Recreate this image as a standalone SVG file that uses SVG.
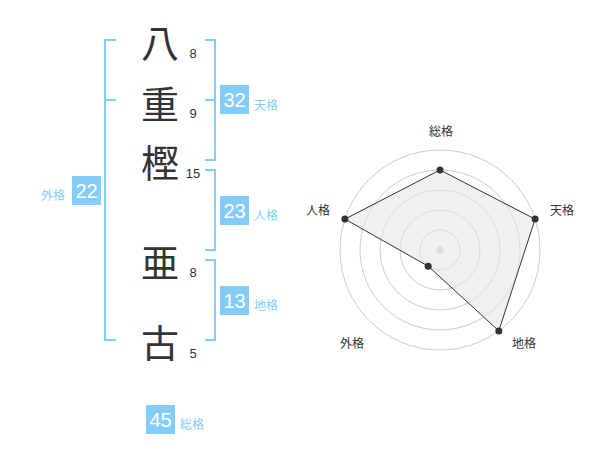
<svg xmlns="http://www.w3.org/2000/svg" width="600" height="470" viewBox="0 0 600 470">
<style>
.kanji{font-family:"Noto Sans CJK JP","Noto Sans CJK SC",sans-serif;font-size:38px;fill:#333;text-anchor:middle;dominant-baseline:central}
.num{font-family:"Liberation Sans",Arial,sans-serif;font-size:13px;fill:#333;text-anchor:middle;dominant-baseline:central}
.br{fill:none;stroke:#84cdf8;stroke-width:2}
.box{fill:#84cdf8}
.bn{font-family:"Liberation Sans",Arial,sans-serif;font-size:20px;fill:#fff;text-anchor:middle;dominant-baseline:central}
.lab{font-family:"Noto Sans CJK JP",sans-serif;font-size:12px;fill:#84cdf8;dominant-baseline:central}
.rl{font-family:"Noto Sans CJK JP",sans-serif;font-size:12px;fill:#333;text-anchor:middle;dominant-baseline:central}
.ring{fill:none;stroke:#cccccc;stroke-width:1}
.dot{fill:#333}
</style>
<rect width="600" height="470" fill="#fff"/>
<g id="chars">
<g id="c1"><text class="kanji" x="160" y="40">八</text><text class="num" x="193" y="53">8</text></g>
<g id="c2"><text class="kanji" x="160" y="101">重</text><text class="num" x="193" y="113">9</text></g>
<g id="c3"><text class="kanji" x="160" y="160">樫</text><text class="num" x="193" y="173">15</text></g>
<g id="c4"><text class="kanji" x="160" y="260">亜</text><text class="num" x="193" y="272">8</text></g>
<g id="c5"><text class="kanji" x="160" y="340">古</text><text class="num" x="193" y="353">5</text></g>
</g>
<g id="connectors">
<path class="br" d="M116 40H105V340H116M105 100H116"/>
<path class="br" d="M205 40H215V160H205M205 100H215"/>
<path class="br" d="M205 170H215V250H205"/>
<path class="br" d="M205 260H215V340H205"/>
</g>
<g id="tenkaku"><rect class="box" x="220" y="85" width="29" height="29"/><text class="bn" x="234.5" y="100">32</text><text class="lab" x="254" y="104">天格</text></g>
<g id="jinkaku"><rect class="box" x="220" y="196" width="29" height="29"/><text class="bn" x="234.5" y="211">23</text><text class="lab" x="254" y="214">人格</text></g>
<g id="chikaku"><rect class="box" x="220" y="286" width="29" height="29"/><text class="bn" x="234.5" y="301">13</text><text class="lab" x="254" y="304">地格</text></g>
<g id="gaikaku"><rect class="box" x="72" y="176" width="29" height="29"/><text class="bn" x="86.5" y="191">22</text><text class="lab" x="65" y="194" text-anchor="end">外格</text></g>
<g id="soukaku"><rect class="box" x="146" y="405" width="29" height="29"/><text class="bn" x="160.5" y="420">45</text><text class="lab" x="180" y="423">総格</text></g>
<g id="radar">
<circle class="ring" cx="440" cy="250" r="20"/>
<circle class="ring" cx="440" cy="250" r="40"/>
<circle class="ring" cx="440" cy="250" r="60"/>
<circle class="ring" cx="440" cy="250" r="80"/>
<circle class="ring" cx="440" cy="250" r="100"/>
<circle cx="440" cy="250" r="3.5" fill="#c8c8c8"/>
<polygon points="440,170 535.1,219.1 498.8,330.9 428.2,266.2 344.9,219.1" fill="#e6e6e6" fill-opacity="0.6" stroke="#333" stroke-width="1"/>
<circle class="dot" cx="440" cy="170" r="3.5"/>
<circle class="dot" cx="535.1" cy="219.1" r="3.5"/>
<circle class="dot" cx="498.8" cy="330.9" r="3.5"/>
<circle class="dot" cx="428.2" cy="266.2" r="3.5"/>
<circle class="dot" cx="344.9" cy="219.1" r="3.5"/>
<text class="rl" x="441" y="130">総格</text>
<text class="rl" x="562" y="209">天格</text>
<text class="rl" x="524" y="342">地格</text>
<text class="rl" x="352" y="342">外格</text>
<text class="rl" x="318" y="209">人格</text>
</g>
</svg>
